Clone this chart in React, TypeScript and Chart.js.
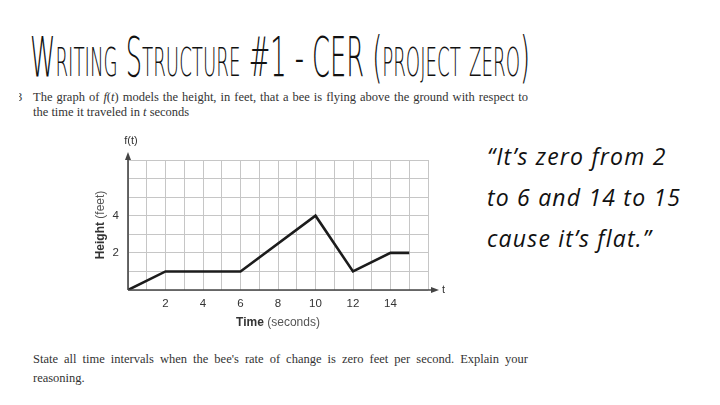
import React, { useEffect, useLayoutEffect, useRef } from "react";
import { Chart, registerables } from "chart.js";

Chart.register(...registerables);

// ---- data ----
const times = [0, 2, 6, 10, 12, 14, 15];
const heights = [0, 1, 1, 4, 1, 2, 2];
const xTickLabels = [2, 4, 6, 8, 10, 12, 14];
const yTickLabels = [2, 4];
const xMax = 16;
const yMax = 7;

const titleText = "Writing Structure #1 - CER (project zero)";
const questionLines = [
  "The graph of f(t) models the height, in feet, that a bee is flying above the ground with respect to",
  "the time it traveled in t seconds",
];
const promptLines = [
  "State all time intervals when the bee's rate of change is zero feet per second. Explain your",
  "reasoning.",
];
const quoteLines = ["\u201CIt\u2019s zero from 2", "to 6 and 14 to 15", "cause it\u2019s flat.\u201D"];

const axisFont = "Liberation Sans, Arial, sans-serif";

const axesPlugin = {
  id: "axesArrows",
  afterDatasetsDraw(chart: any) {
    const { ctx, chartArea } = chart;
    const { left, right, top, bottom } = chartArea;
    ctx.save();
    ctx.strokeStyle = "#444";
    ctx.fillStyle = "#444";
    ctx.lineWidth = 1.6;
    // x axis
    const xEnd = right + 11;
    ctx.beginPath();
    ctx.moveTo(left, bottom);
    ctx.lineTo(xEnd - 4, bottom);
    ctx.stroke();
    ctx.beginPath();
    ctx.moveTo(xEnd, bottom);
    ctx.lineTo(xEnd - 8, bottom - 3);
    ctx.lineTo(xEnd - 8, bottom + 3);
    ctx.closePath();
    ctx.fill();
    // y axis
    const yEnd = top - 8;
    ctx.beginPath();
    ctx.moveTo(left, bottom);
    ctx.lineTo(left, yEnd + 4);
    ctx.stroke();
    ctx.beginPath();
    ctx.moveTo(left, yEnd);
    ctx.lineTo(left - 3, yEnd + 8);
    ctx.lineTo(left + 3, yEnd + 8);
    ctx.closePath();
    ctx.fill();

    ctx.fillStyle = "#333";
    ctx.font = `11px ${axisFont}`;
    ctx.textBaseline = "middle";
    ctx.textAlign = "left";
    ctx.fillText("t", xEnd + 3, bottom);
    ctx.textAlign = "center";
    ctx.fillText("f(t)", left + 3, top - 19);

    // x title
    const xc = (left + right) / 2;
    const xy = bottom + 33;
    ctx.font = `bold 12px ${axisFont}`;
    const w1 = ctx.measureText("Time ").width;
    ctx.font = `12px ${axisFont}`;
    const w2 = ctx.measureText("(seconds)").width;
    let sx = xc - (w1 + w2) / 2;
    ctx.textAlign = "left";
    ctx.font = `bold 12px ${axisFont}`;
    ctx.fillText("Time ", sx, xy);
    ctx.font = `12px ${axisFont}`;
    ctx.fillStyle = "#555";
    ctx.fillText("(seconds)", sx + w1, xy);

    // y title
    ctx.save();
    ctx.translate(left - 27, (top + bottom) / 2);
    ctx.rotate(-Math.PI / 2);
    ctx.font = `bold 12px ${axisFont}`;
    const h1 = ctx.measureText("Height ").width;
    ctx.font = `12px ${axisFont}`;
    const h2 = ctx.measureText("(feet)").width;
    sx = -(h1 + h2) / 2;
    ctx.fillStyle = "#333";
    ctx.font = `bold 12px ${axisFont}`;
    ctx.fillText("Height ", sx, 0);
    ctx.fillStyle = "#555";
    ctx.font = `12px ${axisFont}`;
    ctx.fillText("(feet)", sx + h1, 0);
    ctx.restore();

    ctx.restore();
  },
};

function BeeChart() {
  const ref = useRef<HTMLCanvasElement | null>(null);
  useEffect(() => {
    if (!ref.current) return;
    const chart = new Chart(ref.current, {
      type: "line",
      data: {
        datasets: [
          {
            data: times.map((t, i) => ({ x: t, y: heights[i] })),
            borderColor: "#1c1c1c",
            borderWidth: 2.6,
            pointRadius: 0,
            tension: 0,
            fill: false,
          },
        ],
      },
      options: {
        responsive: false,
        animation: false,
        devicePixelRatio: 1,
        layout: { padding: { top: 30, right: 22, left: 0, bottom: 0 } },
        plugins: { legend: { display: false }, tooltip: { enabled: false } },
        scales: {
          x: {
            type: "linear",
            min: 0,
            max: xMax,
            afterFit: (s: any) => {
              s.height = 50;
            },
            grid: { color: "#c6c6c6", lineWidth: 1, drawTicks: false },
            border: { display: false },
            ticks: {
              stepSize: 1,
              autoSkip: false,
              maxRotation: 0,
              padding: 7,
              color: "#333",
              font: { family: axisFont, size: 11.5 },
              callback: (v: any) => (xTickLabels.includes(Number(v)) ? String(v) : ""),
            },
          },
          y: {
            type: "linear",
            min: 0,
            max: yMax,
            afterFit: (s: any) => {
              s.width = 48;
            },
            grid: { color: "#c6c6c6", lineWidth: 1, drawTicks: false },
            border: { display: false },
            ticks: {
              stepSize: 1,
              autoSkip: false,
              padding: 9,
              color: "#333",
              font: { family: axisFont, size: 11.5 },
              callback: (v: any) => (yTickLabels.includes(Number(v)) ? String(v) : ""),
            },
          },
        },
      },
      plugins: [axesPlugin],
    });
    return () => chart.destroy();
  }, []);
  return (
    <canvas
      ref={ref}
      width={370}
      height={210}
      style={{ position: "absolute", left: 80, top: 130, width: 370, height: 210 }}
    />
  );
}

export default function App() {
  const titleRef = useRef<HTMLSpanElement | null>(null);
  useLayoutEffect(() => {
    const el = titleRef.current;
    if (!el) return;
    const w = el.getBoundingClientRect().width;
    el.style.transform = `scaleX(${500 / w})`;
  }, []);

  const serif = "Liberation Serif, Times New Roman, serif";
  return (
    <div
      style={{
        position: "fixed",
        left: 0,
        top: 0,
        width: 720,
        height: 405,
        background: "#ffffff",
        overflow: "hidden",
      }}
    >
      <div style={{ position: "absolute", left: 30, top: 29, whiteSpace: "nowrap" }}>
        <span
          ref={titleRef}
          style={{
            display: "inline-block",
            transformOrigin: "0 0",
            fontFamily: "DejaVu Sans, sans-serif",
            fontWeight: 200,
            fontVariant: "small-caps",
            fontSize: 55,
            lineHeight: "56px",
            color: "#111",
          }}
        >
          {titleText}
        </span>
      </div>

      <div
        style={{
          position: "absolute",
          left: 19,
          top: 90,
          width: 14,
          overflow: "hidden",
          fontFamily: serif,
          fontSize: 12.5,
          lineHeight: "15px",
          color: "#333",
        }}
      >
        <span style={{ marginLeft: -3 }}>3</span>
      </div>
      <div
        style={{
          position: "absolute",
          left: 33,
          top: 90,
          width: 495,
          fontFamily: serif,
          fontSize: 12.5,
          lineHeight: "15px",
          color: "#333",
        }}
      >
        <div style={{ textAlign: "justify", textAlignLast: "justify", whiteSpace: "nowrap" }}>
          The graph of <i>f</i>(<i>t</i>) models the height, in feet, that a bee is flying above the ground with respect to
        </div>
        <div style={{ whiteSpace: "nowrap" }}>
          the time it traveled in <i>t</i> seconds
        </div>
      </div>

      <BeeChart />

      <div
        style={{
          position: "absolute",
          left: 487,
          top: 136,
          fontFamily: "Open Sans, sans-serif",
          fontStyle: "italic",
          fontSize: 23,
          letterSpacing: 1.2,
          lineHeight: "41px",
          color: "#111",
          whiteSpace: "nowrap",
        }}
      >
        {quoteLines.map((l) => (
          <div key={l}>{l}</div>
        ))}
      </div>

      <div
        style={{
          position: "absolute",
          left: 33,
          top: 350,
          width: 495,
          fontFamily: serif,
          fontSize: 12.5,
          lineHeight: "19px",
          color: "#333",
        }}
      >
        <div style={{ textAlign: "justify", textAlignLast: "justify", whiteSpace: "nowrap" }}>
          {promptLines[0]}
        </div>
        <div style={{ whiteSpace: "nowrap" }}>{promptLines[1]}</div>
      </div>
    </div>
  );
}
